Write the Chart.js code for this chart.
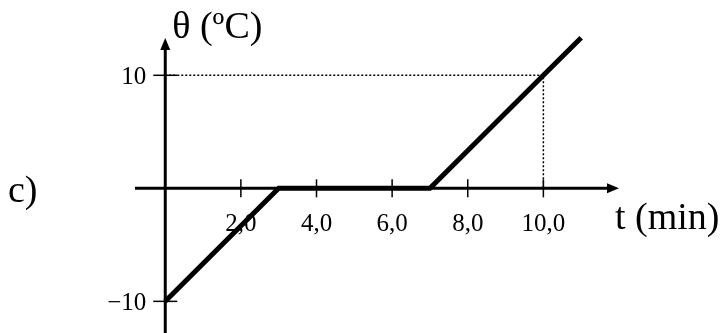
<!DOCTYPE html>
<html lang="pt">
<head>
<meta charset="UTF-8">
<title>Gráfico c)</title>
<script src="https://cdn.jsdelivr.net/npm/chart.js"></script>
<style>
    body { margin: 0; background: #fff; }
    .chart-box { width: 724px; height: 333px; position: relative; }
</style>
</head>
<body>
<div class="chart-box"><canvas id="tempChart"></canvas></div>
<script>
    // vértices da curva: tempo (min) e temperatura (ºC)
    const tempos = [0, 3, 7, 10, 11];
    const temperaturas = [-10, 0, 0, 10, 13.33];

    // linha pontilhada de leitura em (10 ; 10)
    const guiaX = [0, 10, 10];
    const guiaY = [10, 10, 0];

    // marcas dos eixos
    const xTicks = [2, 4, 6, 8, 10];
    const xTickLabels = ['2,0', '4,0', '6,0', '8,0', '10,0'];
    const yTicks = [10, -10];
    const yTickLabels = ['10', '\u221210'];

    const serif = '"Liberation Serif", "Times New Roman", serif';

    // desenha eixos com setas, marcas e textos
    const eixos = {
        id: 'eixos',
        beforeDatasetsDraw(chart) {
            const { ctx, chartArea, scales: { x, y } } = chart;
            const x0 = x.getPixelForValue(0);
            const y0 = y.getPixelForValue(0);
            ctx.save();
            ctx.strokeStyle = '#000';
            ctx.fillStyle = '#000';
            ctx.lineWidth = 3;

            // eixo t
            ctx.beginPath();
            ctx.moveTo(chartArea.left, y0);
            ctx.lineTo(chartArea.right - 8, y0);
            ctx.stroke();
            ctx.beginPath();
            ctx.moveTo(chartArea.right, y0);
            ctx.lineTo(chartArea.right - 12, y0 - 5);
            ctx.lineTo(chartArea.right - 12, y0 + 5);
            ctx.closePath();
            ctx.fill();

            // eixo theta
            ctx.beginPath();
            ctx.moveTo(x0, chartArea.bottom);
            ctx.lineTo(x0, chartArea.top + 8);
            ctx.stroke();
            ctx.beginPath();
            ctx.moveTo(x0, chartArea.top);
            ctx.lineTo(x0 - 5, chartArea.top + 12);
            ctx.lineTo(x0 + 5, chartArea.top + 12);
            ctx.closePath();
            ctx.fill();

            ctx.lineWidth = 1.5;
            xTicks.forEach(v => {
                const px = x.getPixelForValue(v);
                ctx.beginPath();
                ctx.moveTo(px, y0 - 9);
                ctx.lineTo(px, y0 + 9);
                ctx.stroke();
            });
            yTicks.forEach(v => {
                const py = y.getPixelForValue(v);
                ctx.beginPath();
                ctx.moveTo(x0 - 12, py);
                ctx.lineTo(x0 + 12, py);
                ctx.stroke();
            });
            ctx.restore();
        },
        afterDraw(chart) {
            const { ctx, chartArea, scales: { x, y } } = chart;
            const x0 = x.getPixelForValue(0);
            const y0 = y.getPixelForValue(0);
            ctx.save();
            ctx.fillStyle = '#000';
            ctx.textBaseline = 'alphabetic';

            ctx.font = '25px ' + serif;
            ctx.textAlign = 'center';
            xTicks.forEach((v, i) => {
                ctx.fillText(xTickLabels[i], x.getPixelForValue(v), y0 + 43);
            });
            ctx.textAlign = 'right';
            yTicks.forEach((v, i) => {
                ctx.fillText(yTickLabels[i], x0 - 19, y.getPixelForValue(v) + 8.5);
            });

            ctx.font = '38px ' + serif;
            ctx.textAlign = 'left';
            ctx.fillText('\u03B8 (\u00BAC)', x0 + 7, 38);
            ctx.fillText('t (min)', chartArea.right - 4, y0 + 41);
            ctx.fillText('c)', 8, 202);
            ctx.restore();
        }
    };

    new Chart(document.getElementById('tempChart'), {
        type: 'line',
        data: {
            datasets: [{
                data: tempos.map((t, i) => ({ x: t, y: temperaturas[i] })),
                borderColor: '#000',
                borderWidth: 5,
                borderCapStyle: 'butt',
                borderJoinStyle: 'miter',
                pointRadius: 0,
                tension: 0,
                clip: false
            }, {
                data: guiaX.map((t, i) => ({ x: t, y: guiaY[i] })),
                borderColor: '#000',
                borderWidth: 1.5,
                borderDash: [2, 2],
                pointRadius: 0,
                tension: 0,
                clip: false
            }]
        },
        options: {
            responsive: true,
            maintainAspectRatio: false,
            animation: false,
            events: [],
            layout: { padding: { left: 135, right: 105, top: 38, bottom: 0 } },
            plugins: { legend: { display: false }, tooltip: { enabled: false } },
            scales: {
                x: { type: 'linear', min: -0.8, max: 12, display: false },
                y: { type: 'linear', min: -12.8, max: 13.3, display: false }
            }
        },
        plugins: [eixos]
    });
</script>
</body>
</html>
